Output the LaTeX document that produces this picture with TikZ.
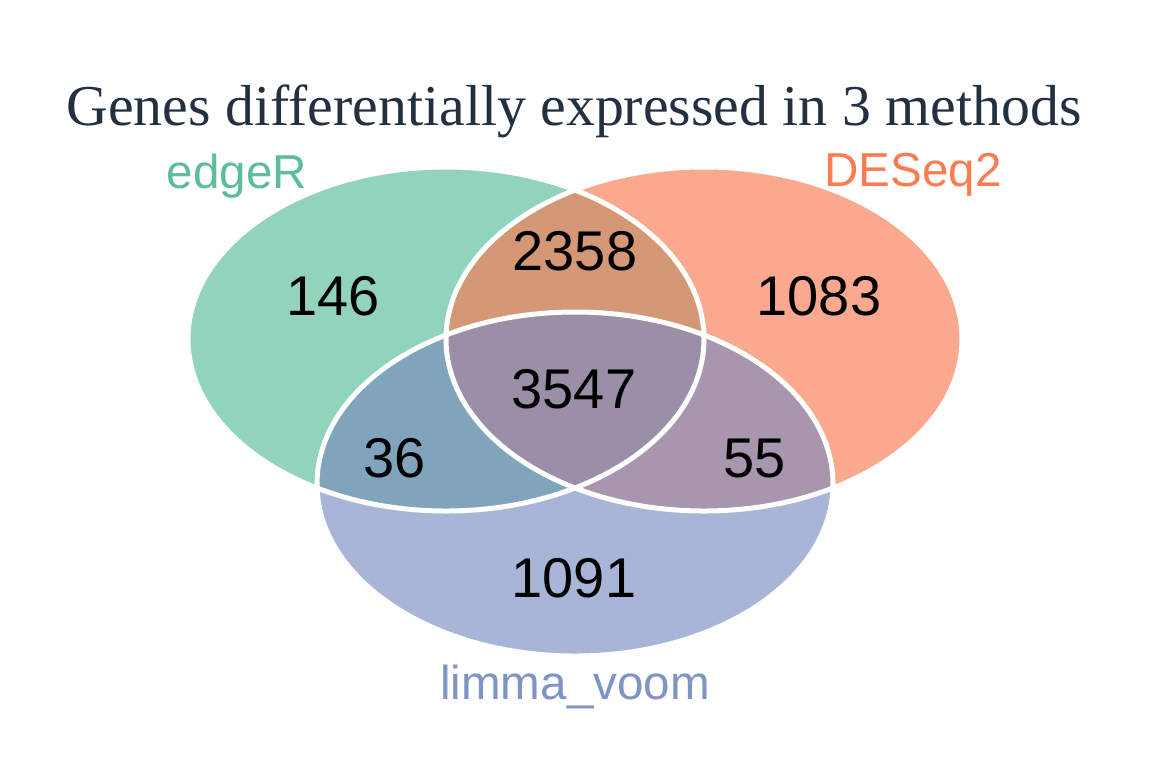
\documentclass[tikz,border=0pt]{standalone}
\usepackage{fontspec}
\setmainfont{Liberation Serif}
\setsansfont{Liberation Sans}

% region colours
\definecolor{onlyG}{HTML}{92D3BC}
\definecolor{onlyO}{HTML}{FBA98E}
\definecolor{onlyB}{HTML}{A8B5D6}
\definecolor{GO}{HTML}{D49876}
\definecolor{GB}{HTML}{81A4BD}
\definecolor{OB}{HTML}{A895AE}
\definecolor{GOB}{HTML}{9A8FA6}
% label colours
\definecolor{labG}{HTML}{5CBD98}
\definecolor{labO}{HTML}{FA7D52}
\definecolor{labB}{HTML}{7F93C5}
\definecolor{ttlcol}{HTML}{233041}

\tikzset{
  num/.style={anchor=base, text=black, font=\sffamily\fontsize{28}{32}\selectfont},
  setlab/.style={anchor=base, font=\sffamily\fontsize{23.8}{28}\selectfont},
  rim/.style={draw=white, line width=2.5pt},
  ovl/.style={x radius=258, y radius=172},
}

\begin{document}
\begin{tikzpicture}[x=0.5pt, y=-0.5pt]
    \useasboundingbox (0,0) rectangle (1152,768);

    % Centres
    \coordinate (cG) at (446,339);
    \coordinate (cO) at (704,339);
    \coordinate (cB) at (575,484);

    % Plain sets
    \fill[onlyG] (cG) ellipse [ovl];
    \fill[onlyO] (cO) ellipse [ovl];
    \fill[onlyB] (cB) ellipse [ovl];

    % Overlaps
    \begin{scope}
        \clip (cO) ellipse [ovl];
        \fill[OB] (cB) ellipse [ovl];
    \end{scope}
    \begin{scope}
        \clip (cG) ellipse [ovl];
        \fill[GO] (cO) ellipse [ovl];
        \fill[GB] (cB) ellipse [ovl];
        \clip (cO) ellipse [ovl];
        \fill[GOB] (cB) ellipse [ovl];
    \end{scope}

    % Outlines
    \draw[rim] (cG) ellipse [ovl];
    \draw[rim] (cO) ellipse [ovl];
    \draw[rim] (cB) ellipse [ovl];

    % Title
    \node[anchor=base, text=ttlcol, font=\fontsize{28.9}{34}\selectfont] (ttl) at (574,125)
        {Genes differentially expressed in 3 methods};

    % Set names
    \node[setlab, text=labG] (labEdge) at (237,188) {edgeR};
    \node[setlab, text=labO] (labDes) at (913,186) {DESeq2};
    \node[setlab, text=labB] (labLim) at (575,699) {limma\_voom};

    % Counts
    \node[num] (nG) at (333,315) {146};
    \node[num] (nGO) at (575,270) {2358};
    \node[num] (nO) at (819,315) {1083};
    \node[num] (nGOB) at (574,408) {3547};
    \node[num] (nGB) at (395,477) {36};
    \node[num] (nOB) at (755,477) {55};
    \node[num] (nB) at (574,597) {1091};
\end{tikzpicture}
\end{document}
